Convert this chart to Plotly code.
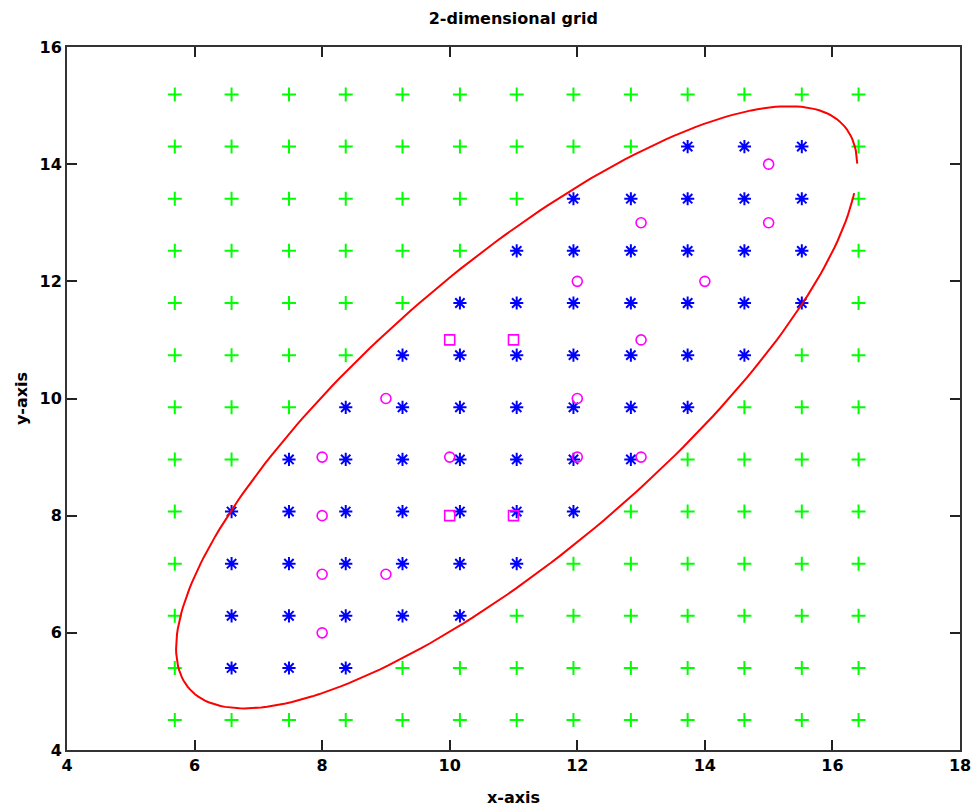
import numpy as np
import plotly.graph_objects as go

# Regular grid of nodes (columns left to right, rows top to bottom)
grid_x = [5.69, 6.58, 7.48, 8.37, 9.26, 10.16, 11.05, 11.94, 12.84, 13.73, 14.62, 15.52, 16.41]
grid_y = [15.19, 14.30, 13.41, 12.52, 11.63, 10.74, 9.85, 8.96, 8.07, 7.18, 6.29, 5.40, 4.51]

# Node membership per row (top to bottom): 1 = inside the ellipse, 0 = outside
grid_inside = [
    "0000000000000",
    "0000000001110",
    "0000000111110",
    "0000001111110",
    "0000011111110",
    "0000111111100",
    "0001111111000",
    "0011111110000",
    "0111111100000",
    "0111111000000",
    "0111110000000",
    "0111000000000",
    "0000000000000",
]

# Sample points of the first class (circles)
circle_x = [8, 8, 9, 8, 8, 9, 10, 12, 13, 12, 13, 12, 14, 13, 15, 15]
circle_y = [6, 7, 7, 8, 9, 10, 9, 9, 9, 10, 11, 12, 12, 13, 13, 14]

# Sample points of the second class (squares)
square_x = [10, 11, 10, 11]
square_y = [8, 8, 11, 11]

# Ellipse: centre, half extents along x and y, and correlation of the axes
ell_cx, ell_cy = 11.05, 9.85
ell_hx, ell_hy = 5.34, 5.14
ell_rho = 0.80

# split nodes into inside / outside sets
in_x, in_y, out_x, out_y = [], [], [], []
for yv, row in zip(grid_y, grid_inside):
    for xv, flag in zip(grid_x, row):
        if flag == "1":
            in_x.append(xv)
            in_y.append(yv)
        else:
            out_x.append(xv)
            out_y.append(yv)

# parametric ellipse, left open just below its rightmost point
t = np.linspace(0.016, 2 * np.pi - 0.136, 240)
delta = np.arccos(ell_rho)
ex = ell_cx + ell_hx * np.cos(t)
ey = ell_cy + ell_hy * np.cos(t - delta)

FONT = "DejaVu Sans"

fig = go.Figure()
fig.add_trace(go.Scatter(
    x=out_x, y=out_y, mode="markers",
    marker=dict(symbol="cross-thin-open", size=10, color="#00ff00",
                line=dict(width=2, color="#00ff00")),
    hoverinfo="skip"))
fig.add_trace(go.Scatter(
    x=in_x, y=in_y, mode="markers",
    marker=dict(symbol="asterisk-open", size=11, color="#0000ff",
                line=dict(width=2, color="#0000ff")),
    hoverinfo="skip"))
fig.add_trace(go.Scatter(
    x=ex, y=ey, mode="lines",
    line=dict(color="#ff0000", width=2),
    hoverinfo="skip"))
fig.add_trace(go.Scatter(
    x=circle_x, y=circle_y, mode="markers",
    marker=dict(symbol="circle-open", size=10, color="#ff00ff",
                line=dict(width=1.6, color="#ff00ff")),
    hoverinfo="skip"))
fig.add_trace(go.Scatter(
    x=square_x, y=square_y, mode="markers",
    marker=dict(symbol="square-open", size=10, color="#ff00ff",
                line=dict(width=1.6, color="#ff00ff")),
    hoverinfo="skip"))

axis_common = dict(
    showgrid=False, zeroline=False, automargin=False,
    showline=True, linecolor="#333333", linewidth=2, mirror="ticks",
    ticks="inside", ticklen=10, tickwidth=1.6, tickcolor="#222222",
    tickfont=dict(family=FONT, size=16, color="black", weight="bold"),
)

fig.update_layout(
    width=974, height=812,
    margin=dict(l=67, r=14, t=47, b=62),
    paper_bgcolor="white", plot_bgcolor="white",
    showlegend=False,
    title=dict(text="2-dimensional grid", x=0.527, xanchor="center",
               y=0.977, yanchor="middle", yref="container",
               font=dict(family=FONT, size=16, color="black", weight="bold")),
    xaxis=dict(range=[4, 18], tickvals=list(range(4, 19, 2)),
               title=dict(text="x-axis", standoff=18,
                          font=dict(family=FONT, size=16, color="black", weight="bold")),
               **axis_common),
    yaxis=dict(range=[4, 16], tickvals=list(range(4, 17, 2)),
               title=dict(text="y-axis", standoff=8,
                          font=dict(family=FONT, size=16, color="black", weight="bold")),
               **axis_common),
)

fig.write_html("out.html")
